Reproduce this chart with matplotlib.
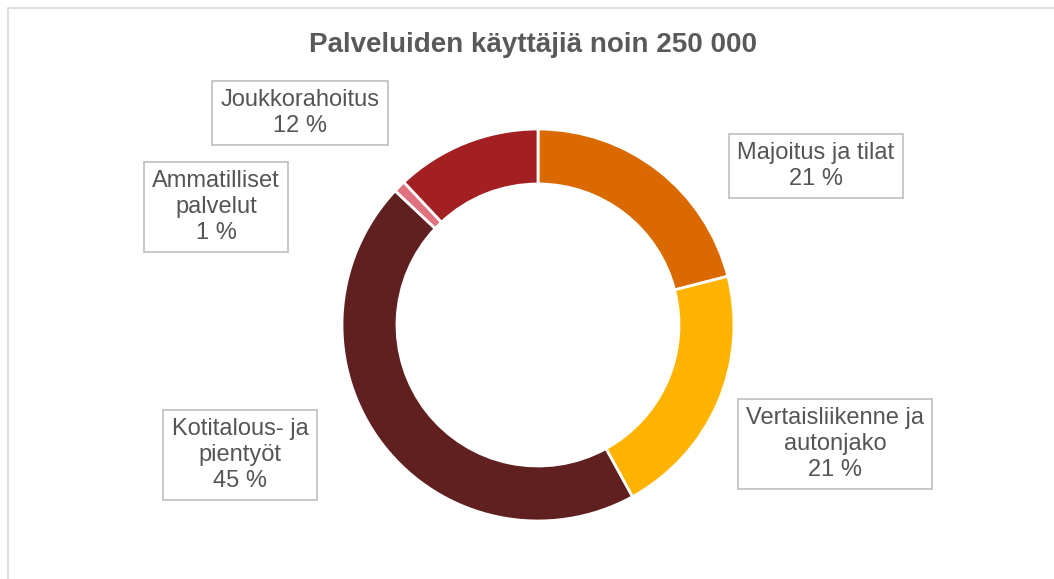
import matplotlib.pyplot as plt
from matplotlib.patches import Rectangle

plt.rcParams['font.family'] = ['Liberation Sans', 'DejaVu Sans']

# data
categories = ['Majoitus ja tilat', 'Vertaisliikenne ja\nautonjako', 'Kotitalous- ja\npientyöt',
              'Ammatilliset\npalvelut', 'Joukkorahoitus']
values = [21, 21, 45, 1, 12]
colors = ['#DA6A00', '#FDB300', '#612020', '#E0727F', '#A21F22']
title = 'Palveluiden käyttäjiä noin 250 000'

# label box centres in pixel coords (x, y from top)
label_pos = [(816, 166), (835, 444), (240, 455), (216, 207), (300, 113)]

W, H = 1054, 579
fig = plt.figure(figsize=(W / 100, H / 100), dpi=100)
ax = fig.add_axes([0, 0, 1, 1])

# chart area border
ax.add_patch(Rectangle((8, -20), W + 20, H - 8 + 20, fill=False, edgecolor='#D9D9D9', lw=1.2))

ax.pie(values, colors=colors, startangle=90, counterclock=False,
       center=(538, H - 325), radius=196, frame=True,
       wedgeprops=dict(width=55, edgecolor='white', linewidth=2))
ax.set_xlim(0, W)
ax.set_ylim(0, H)
ax.set_aspect('equal')
ax.axis('off')

for cat, v, (x, y) in zip(categories, values, label_pos):
    ax.text(x, H - y, f'{cat}\n{v} %', ha='center', va='center', fontsize=17,
            color='#555555', linespacing=1.22,
            bbox=dict(boxstyle='square,pad=0.35', fc='white', ec='#BFBFBF', lw=1.2))

ax.text(533, H - 45, title, ha='center', va='center', fontsize=20,
        fontweight='bold', color='#595959')

fig.savefig('out.png', dpi=100)
